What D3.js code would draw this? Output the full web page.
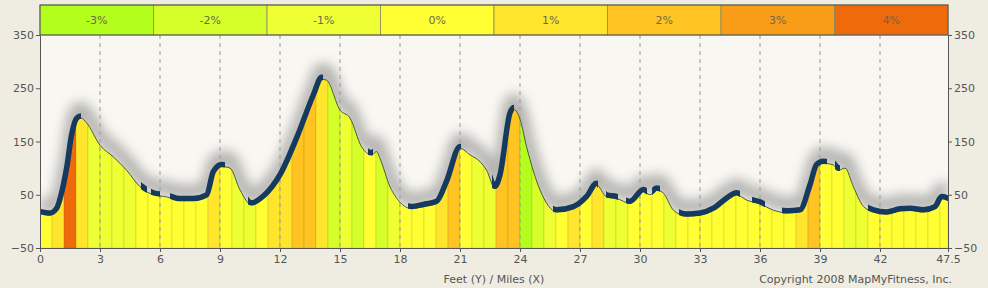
<!DOCTYPE html>
<html>
<head>
<meta charset="utf-8">
<script src="https://cdn.jsdelivr.net/npm/d3@7"></script>
<style>
  body { margin: 0; background: #efede2; }
  svg { display: block; font-family: "DejaVu Sans", sans-serif; }
</style>
</head>
<body>
<svg id="chart"></svg>
<script>
// elevation profile (miles, feet)
const miles = [0, 0.5, 0.83, 1.17, 1.33, 1.58, 1.83, 2.05, 2.33, 3.0, 3.67, 4.33, 5.0, 5.67, 6.33, 7.0, 7.67, 8.33, 8.67, 9.08, 9.5, 10.0, 10.58, 11.17, 12.0, 12.83, 13.67, 14.08, 14.33, 15.0, 15.5, 16.08, 16.58, 16.83, 17.0, 17.5, 18.0, 18.58, 19.17, 19.83, 20.33, 21.0, 21.5, 22.0, 22.33, 22.75, 23.0, 23.5, 23.7, 24.0, 24.33, 25.0, 25.83, 26.67, 27.33, 27.83, 28.33, 28.83, 29.5, 30.17, 30.5, 30.83, 31.17, 31.67, 32.33, 33.0, 33.67, 34.33, 34.83, 35.33, 36.0, 36.67, 37.33, 38.0, 38.5, 38.83, 39.17, 39.67, 39.92, 40.25, 40.67, 41.17, 41.67, 42.33, 43.0, 43.5, 44.17, 44.75, 45.08, 45.4];
const feet  = [15, 12, 21, 65, 96, 159, 190, 194, 185, 143, 121, 96, 65, 50, 46, 39, 39, 46, 90, 103, 100, 59, 31, 44, 84, 153, 234, 267, 265, 209, 194, 140, 125, 131, 118, 65, 36, 24, 28, 34, 72, 137, 125, 112, 96, 62, 84, 200, 210, 192, 140, 59, 18, 24, 43, 68, 46, 43, 34, 56, 50, 59, 53, 21, 10, 12, 21, 40, 50, 40, 33, 21, 16, 18, 65, 103, 109, 106, 96, 100, 65, 28, 18, 14, 20, 21, 18, 24, 43, 40];

// grade (%) of each 0.6 mile strip
const stripMiles = 0.6;
const grades = [0, 1, 4, 1, -1, -1, -1, -1, 0, 0, 0, 0, 0, 0, 1, 0, -1, -1, 0, 1, 1, 2, 2, 1, -2,
  -1, -2, 0, -2, -1, 0, 0, 0, 1, 2, 0, -1, -1, 2, 2, -3, -2, -1, 0, 1, 0, 1, -1, -1, 0,
  0, 0, -1, 0, 0, 0, 0, 0, 0, 0, 0, 0, 0, 1, 2, 0, 0, -1, -1, 0, 0, 0, 0, 0, 0, 0];

// stretches drawn with the heavy dark line
const darkRanges = [[0, 2.05], [5.05, 5.35], [5.55, 6.0], [6.5, 9.25], [10.4, 14.15], [16.4, 16.65], [18.4, 21.05], [22.6, 23.7], [25.65, 27.9], [28.3, 28.9], [29.3, 30.35], [30.6, 31.0], [31.95, 35.0], [35.6, 36.25], [37.1, 39.35], [39.75, 40.0], [41.4, 45.4]];

const gradeValues = [-3, -2, -1, 0, 1, 2, 3, 4];
const gradeLabels = ["-3%", "-2%", "-1%", "0%", "1%", "2%", "3%", "4%"];
const gradeColors = ["#b4fe1c", "#d6ff2a", "#eeff34", "#ffff33", "#ffe52c", "#ffc322", "#f99d18", "#ee6a0a"];

const xTicks = [0, 3, 6, 9, 12, 15, 18, 21, 24, 27, 30, 33, 36, 39, 42, 45.4];
const xTickLabels = ["0", "3", "6", "9", "12", "15", "18", "21", "24", "27", "30", "33", "36", "39", "42", "47.5"];
const yTicks = [350, 250, 150, 50, -50];

const width = 988, height = 288;
const margin = { top: 35, right: 40, bottom: 40, left: 40 };

const svg = d3.select("#chart").attr("width", width).attr("height", height);

const x = d3.scaleLinear().domain([0, 45.4]).range([margin.left, width - margin.right]);
const y = d3.scaleLinear().domain([-50, 350]).range([height - margin.bottom, margin.top]);
const color = d3.scaleOrdinal().domain(gradeValues).range(gradeColors);

const pts = miles.map((m, i) => [m, feet[i]]);
const line = d3.line().x(d => x(d[0])).y(d => y(d[1])).curve(d3.curveMonotoneX);
const area = d3.area().x(d => x(d[0])).y0(y(-50)).y1(d => y(d[1])).curve(d3.curveMonotoneX);

const defs = svg.append("defs");
defs.append("clipPath").attr("id", "plotClip").append("rect")
  .attr("x", x(0)).attr("y", y(350)).attr("width", x(45.4) - x(0)).attr("height", y(-50) - y(350));
defs.append("clipPath").attr("id", "areaClip").append("path").attr("d", area(pts));
defs.append("clipPath").attr("id", "darkClip").selectAll("rect")
  .data(darkRanges).join("rect")
  .attr("x", d => x(d[0])).attr("width", d => x(d[1]) - x(d[0]))
  .attr("y", 0).attr("height", height);
defs.append("filter").attr("id", "blur").attr("x", "-10%").attr("y", "-50%").attr("width", "120%").attr("height", "200%")
  .append("feGaussianBlur").attr("stdDeviation", 6);

// plot background
svg.append("rect")
  .attr("x", x(0)).attr("y", y(350)).attr("width", x(45.4) - x(0)).attr("height", y(-50) - y(350))
  .attr("fill", "#f8f7f2");

const plot = svg.append("g").attr("clip-path", "url(#plotClip)");

// soft shadow above profile
plot.append("path")
  .attr("d", line(pts))
  .attr("transform", "translate(0,-9)")
  .attr("fill", "none")
  .attr("stroke", "#7a7a7a")
  .attr("stroke-width", 14)
  .attr("opacity", 0.55)
  .attr("filter", "url(#blur)");

// grade strips
plot.append("g").attr("clip-path", "url(#areaClip)")
  .selectAll("rect").data(grades).join("rect")
  .attr("x", (d, i) => x(i * stripMiles))
  .attr("width", (d, i) => x(Math.min((i + 1) * stripMiles, 45.4)) - x(i * stripMiles))
  .attr("y", y(350)).attr("height", y(-50) - y(350))
  .attr("fill", d => color(d))
  .attr("stroke", "rgba(90,90,40,0.18)")
  .attr("stroke-width", 0.8);

// dashed vertical grid
plot.append("g").selectAll("line")
  .data(xTicks.slice(1, -1)).join("line")
  .attr("x1", d => x(d)).attr("x2", d => x(d))
  .attr("y1", y(350)).attr("y2", y(-50))
  .attr("stroke", "#9a9a9a")
  .attr("stroke-dasharray", "4,4");

// profile lines
plot.append("path")
  .attr("d", line(pts))
  .attr("fill", "none")
  .attr("stroke", "#4f5a2a")
  .attr("stroke-width", 1);

plot.append("g").attr("clip-path", "url(#darkClip)").append("path")
  .attr("d", line(pts))
  .attr("transform", "translate(0,-2)")
  .attr("fill", "none")
  .attr("stroke", "#163a5e")
  .attr("stroke-width", 5.5)
  .attr("stroke-linecap", "round");

// axes
const styleAxis = g => {
  g.selectAll(".domain").attr("stroke", "#555");
  g.selectAll(".tick line").attr("stroke", "#555");
  g.selectAll(".tick text").attr("fill", "#555").style("font-size", "11px").style("font-family", "DejaVu Sans, sans-serif");
};

svg.append("g")
  .attr("transform", `translate(0,${y(-50)})`)
  .call(d3.axisBottom(x).tickValues(xTicks).tickFormat((d, i) => xTickLabels[i]).tickSizeOuter(0).tickSize(4).tickPadding(3))
  .call(styleAxis);

svg.append("g")
  .attr("transform", `translate(${x(0)},0)`)
  .call(d3.axisLeft(y).tickValues(yTicks).tickSizeOuter(0).tickSize(4).tickPadding(2))
  .call(styleAxis);

svg.append("g")
  .attr("transform", `translate(${x(45.4)},0)`)
  .call(d3.axisRight(y).tickValues(yTicks).tickSizeOuter(0).tickSize(4).tickPadding(2))
  .call(styleAxis);

// grade legend
const cellW = (x(45.4) - x(0)) / gradeValues.length;
const legend = svg.append("g").attr("transform", `translate(${x(0)},5)`);
const cells = legend.selectAll("g").data(gradeValues).join("g")
  .attr("transform", (d, i) => `translate(${i * cellW},0)`);
cells.append("rect")
  .attr("width", cellW).attr("height", 30)
  .attr("fill", d => color(d))
  .attr("stroke", "#8a8a60").attr("stroke-width", 0.8);
cells.append("text")
  .attr("x", cellW / 2).attr("y", 19)
  .attr("text-anchor", "middle")
  .attr("fill", "#6a6a50")
  .style("font-size", "11px")
  .text((d, i) => gradeLabels[i]);
legend.append("rect")
  .attr("width", cellW * gradeValues.length).attr("height", 30)
  .attr("fill", "none").attr("stroke", "#555");

// captions
svg.append("text")
  .attr("x", 494).attr("y", 283)
  .attr("text-anchor", "middle")
  .attr("fill", "#555").style("font-size", "11px")
  .text("Feet (Y) / Miles (X)");

svg.append("text")
  .attr("x", 952).attr("y", 283)
  .attr("text-anchor", "end")
  .attr("fill", "#555").style("font-size", "11px")
  .text("Copyright 2008 MapMyFitness, Inc.");
</script>
</body>
</html>
